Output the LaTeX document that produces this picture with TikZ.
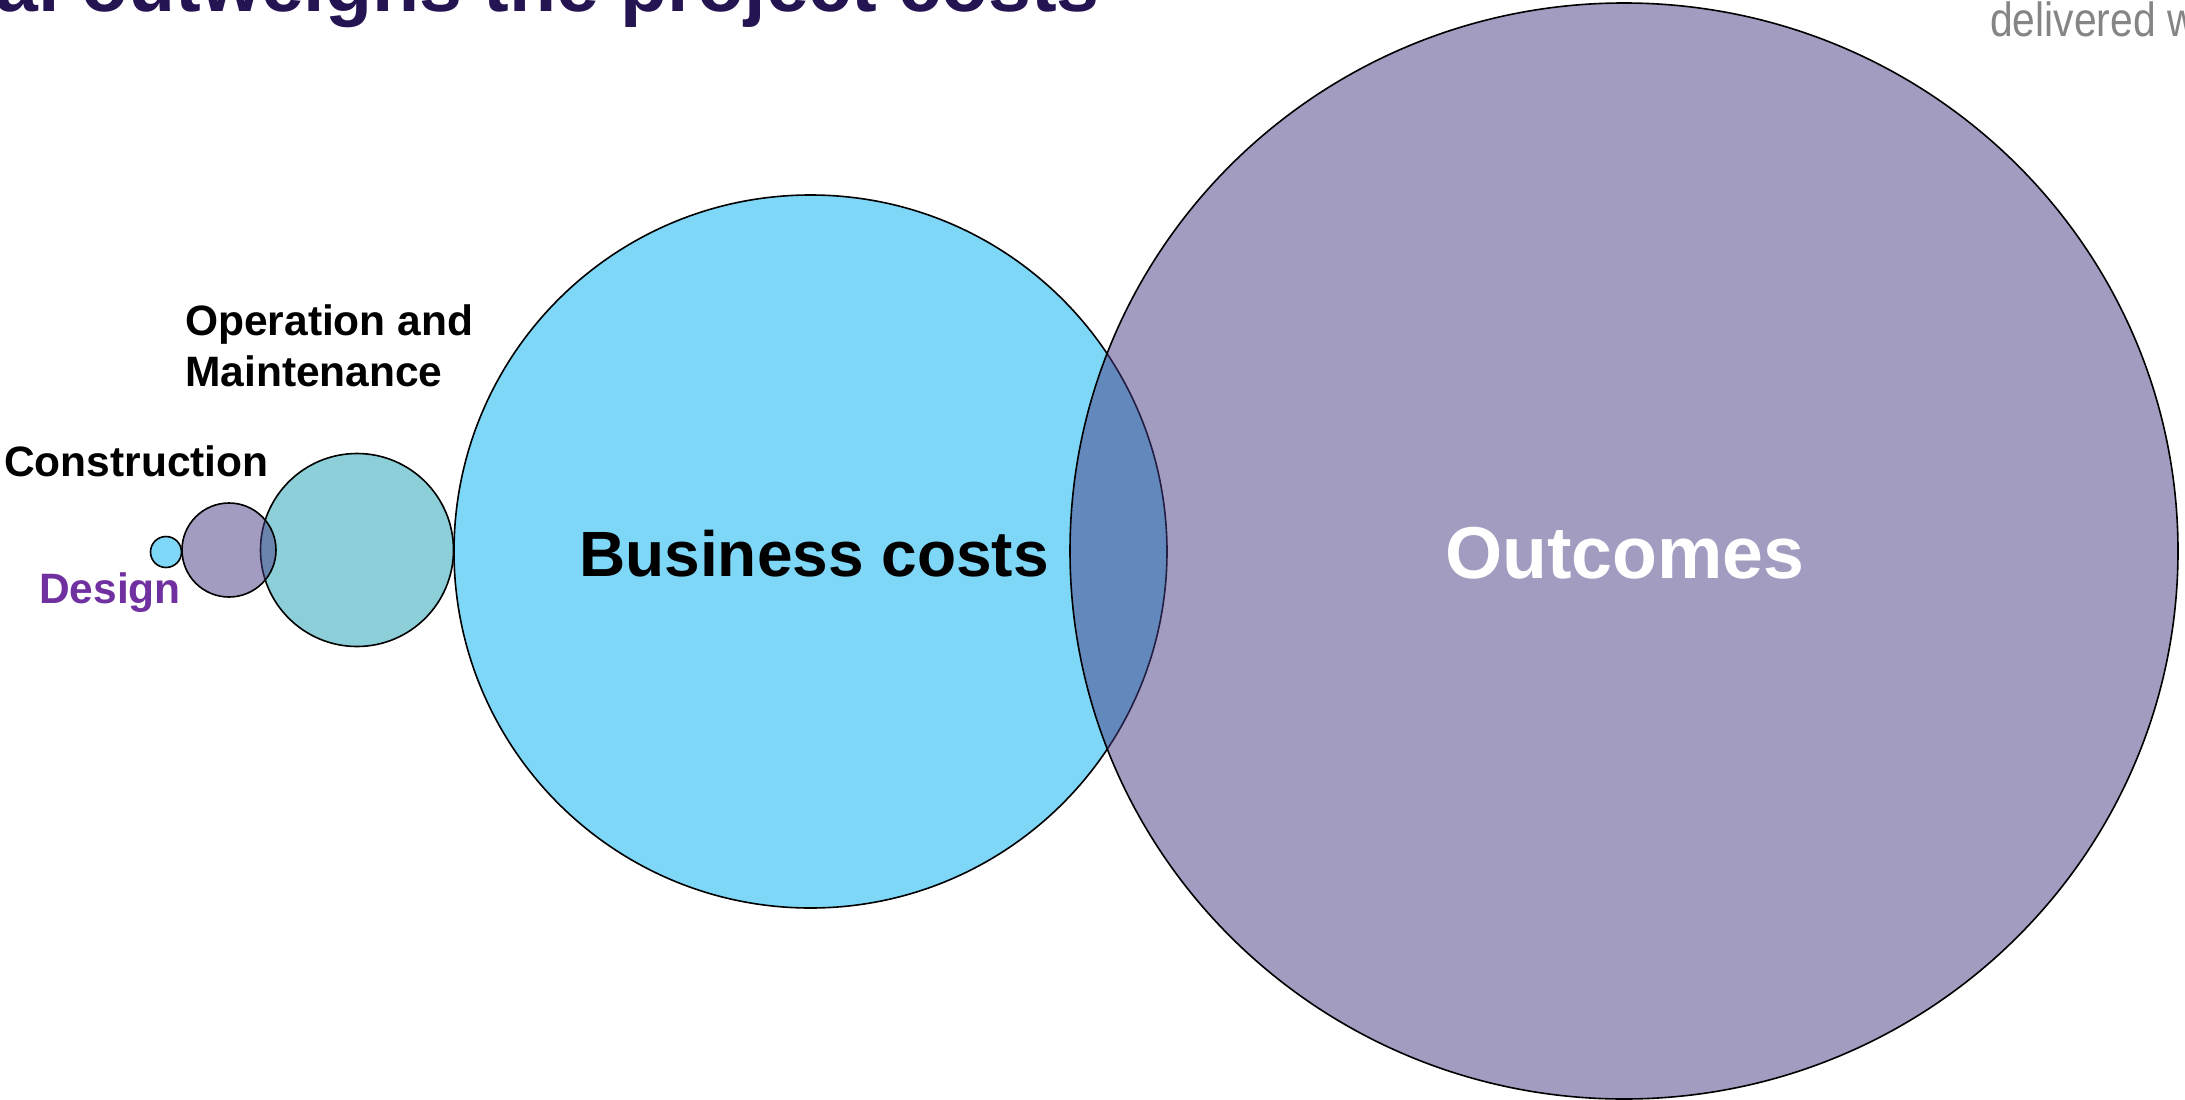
\documentclass[tikz,border=0pt]{standalone}
\usepackage{fontspec}
\setmainfont{Liberation Sans}
\newfontfamily\delfont[FakeStretch=0.85]{Liberation Sans}
\definecolor{lblue}{HTML}{7ED7F7}
\definecolor{teal}{HTML}{8DCFD8}
\definecolor{purp}{HTML}{473B83}
\definecolor{designcol}{HTML}{7030A0}
\definecolor{titlecol}{HTML}{251452}
\definecolor{graytxt}{HTML}{858585}
\begin{document}
\begin{tikzpicture}[x=1pt,y=-1pt,
  bubble/.style={draw=black, line width=1.6pt},
  lbl/.style={inner sep=0pt, font=\bfseries\fontsize{42.5}{50}\selectfont, anchor=base west}]
\useasboundingbox (0,0) rectangle (2185,1100);
\fill[white] (0,0) rectangle (2185,1100);
% circles
\draw[bubble, fill=lblue] (166,552) circle[radius=15.5];
\draw[bubble, fill=teal] (357,550) circle[radius=96.5];
\draw[bubble, fill=purp, fill opacity=0.5] (229,550) circle[radius=47];
\draw[bubble, fill=lblue] (810.5,551.5) circle[radius=356.5];
\draw[bubble, fill=purp, fill opacity=0.5] (1624,551) ellipse[x radius=554, y radius=548];
% labels
\node[lbl] (om1) at (185,335) {Operation and};
\node[lbl] (om2) at (185,386) {Maintenance};
\node[lbl] (cons) at (4,476) {Construction};
\node[lbl, text=designcol] (des) at (39,603) {Design};
\node[inner sep=0pt, anchor=base, font=\bfseries\fontsize{64}{70}\selectfont] (bc) at (814,576) {Business costs};
\node[inner sep=0pt, anchor=base, text=white, font=\bfseries\fontsize{73.5}{80}\selectfont] (out) at (1625,578) {Outcomes};
\node[inner sep=0pt, anchor=base east, text=titlecol, font=\bfseries\fontsize{77}{80}\selectfont] (title) at (1100,11) {al outweighs the project costs};
\node[inner sep=0pt, anchor=base west, text=graytxt, font=\delfont\fontsize{48}{52}\selectfont] (deliv) at (1990,36) {delivered w};
\end{tikzpicture}
\end{document}
